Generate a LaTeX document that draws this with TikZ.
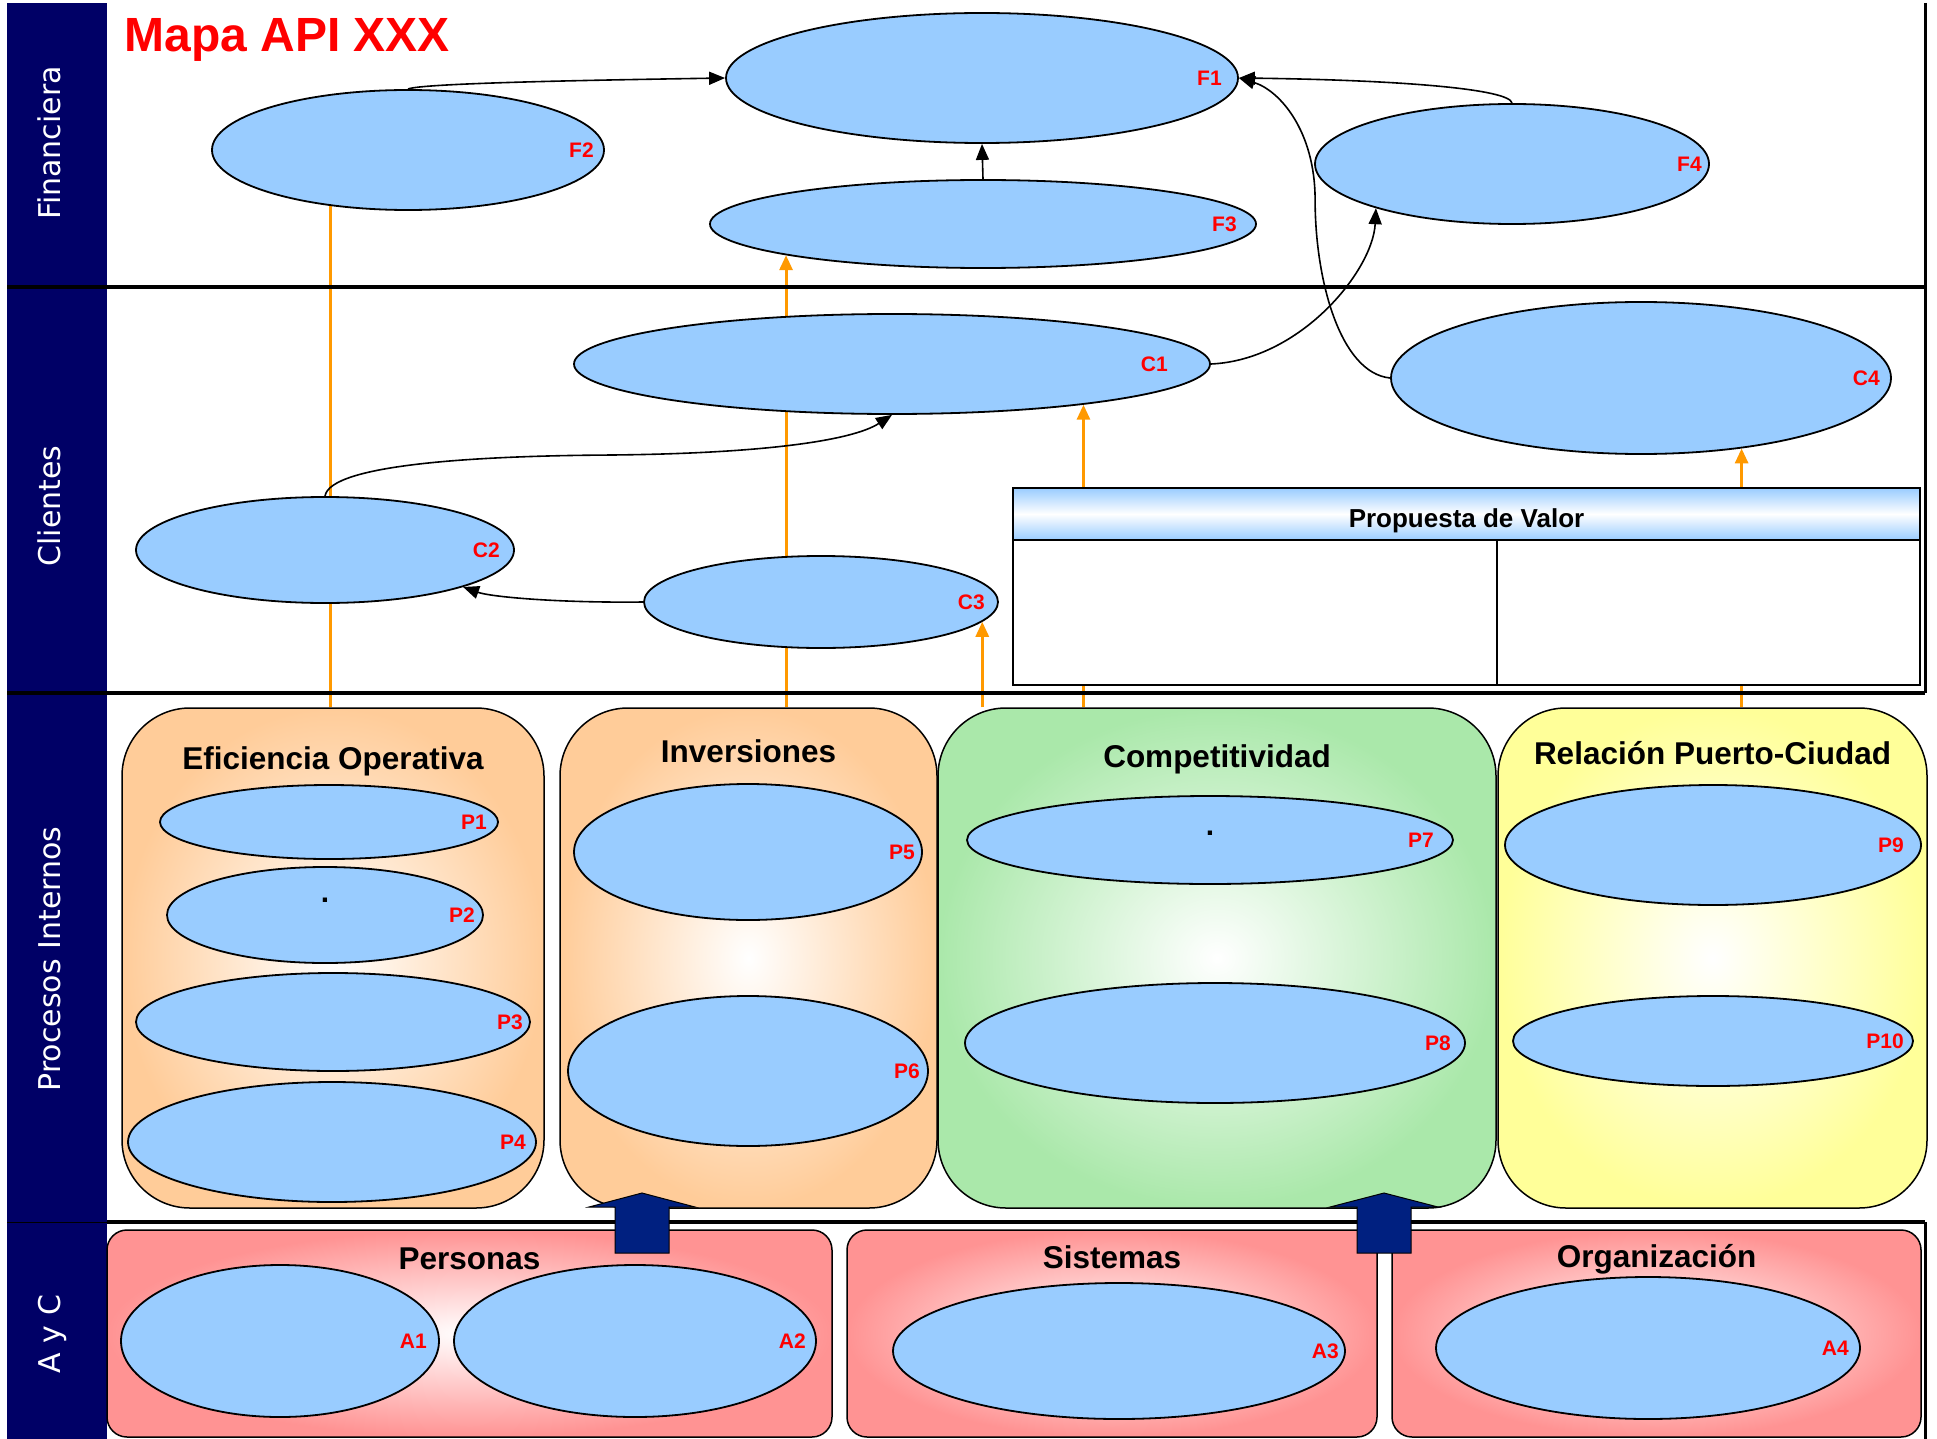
\documentclass[tikz,border=0pt]{standalone}
\usepackage{fontspec}
\setmainfont{Liberation Sans}
\newfontfamily\bandfont{DejaVu Sans}
\usepackage{tikz}
\usetikzlibrary{arrows.meta, positioning, shapes.geometric}
\definecolor{bandnavy}{HTML}{000066}
\definecolor{objblue}{HTML}{99CCFF}
\definecolor{peach}{HTML}{FFCC99}
\definecolor{mint}{HTML}{AAE8AA}
\definecolor{lemon}{HTML}{FFFF99}
\definecolor{rose}{HTML}{FF9393}
\definecolor{feedorange}{HTML}{FF9900}
\definecolor{blocknavy}{HTML}{002080}
\pgfdeclarelayer{bg}
\pgfsetlayers{bg,main}

\begin{document}
\begin{tikzpicture}[
    x=1pt, y=-1pt,
    >={Triangle[length=16pt, width=13pt]},
    band/.style={rectangle, fill=bandnavy, inner sep=0pt, minimum width=100pt},
    bandtxt/.style={rotate=90, anchor=base, text=white,
                    font=\bandfont\fontsize{30}{36}\selectfont},
    sectionline/.style={line width=4pt},
    obj/.style 2 args={ellipse, draw, line width=1.8pt, fill=objblue, inner sep=0pt,
                font=\bfseries\fontsize{30}{30}\selectfont,
                label={[tag, xshift=-#2]east:#1}},
    tag/.style={anchor=east, inner sep=0pt, text=red,
                font=\bfseries\fontsize{21}{24}\selectfont},
    perspbox/.style={rectangle, rounded corners=68pt, draw, line width=1.5pt,
                     inner color=white, outer color=#1, minimum height=500pt},
    capbox/.style={rectangle, rounded corners=20pt, draw, line width=1.5pt,
                   inner color=white, outer color=rose, minimum height=207pt},
    ttl/.style={anchor=base, inner sep=0pt,
                font=\bfseries\fontsize{31.5}{36}\selectfont},
    pvhead/.style={rectangle, draw, line width=1.5pt, minimum width=907pt,
                   minimum height=52pt, top color=objblue, bottom color=objblue,
                   middle color=white, text height=26pt, text depth=0pt,
                   font=\bfseries\fontsize{26}{30}\selectfont},
    pvcell/.style={rectangle, draw, line width=1.5pt, fill=white,
                   minimum height=145pt},
    link/.style={->, line width=1.6pt},
    feedline/.style={draw=feedorange, line width=3pt},
    feed/.style={feedline, -{Triangle[length=15pt, width=13pt]}},
    upblock/.style={fill=blocknavy, draw=black, line width=1pt},
  ]
  \useasboundingbox (0,0) rectangle (1937,1439);

  % perspective band
  \node[band, minimum height=284pt] (finband) at (57,145) {};
  \node[band, minimum height=406pt] (cliband) at (57,490) {};
  \node[band, minimum height=529pt] (proband) at (57,957.5) {};
  \node[band, minimum height=217pt] (ayband) at (57,1330.5) {};
  \node[bandtxt] (fintxt) at (60,143) {Financiera};
  \node[bandtxt] (clitxt) at (60,506) {Clientes};
  \node[bandtxt] (protxt) at (60,959) {Procesos Internos};
  \node[bandtxt] (aytxt) at (60,1334) {A y C};

  \draw[sectionline] (7,287) -- (1925,287);
  \draw[sectionline] (7,693) -- (1925,693);
  \draw[sectionline] (107,1222) -- (1925,1222);
  \draw[line width=1pt] (7,1222) -- (107,1222);
  \draw[line width=3pt] (1925,3) -- (1925,693);
  \draw[line width=3pt] (1925,1222) -- (1925,1439);

  \node[anchor=base west, text=red, font=\bfseries\fontsize{48}{56}\selectfont]
    (title) at (121,52) {Mapa API XXX};

  % Financiera
  \node[obj={F1}{17pt}, minimum width=512pt, minimum height=130pt] (f1) at (982,78) {};
  \node[obj={F2}{11pt}, minimum width=392pt, minimum height=120pt] (f2) at (408,150) {};
  \node[obj={F3}{20pt}, minimum width=546pt, minimum height=88pt] (f3) at (983,224) {};
  \node[obj={F4}{8pt}, minimum width=394pt, minimum height=120pt] (f4) at (1512,164) {};

  % Clientes
  \node[obj={C1}{43pt}, minimum width=636pt, minimum height=100pt] (c1) at (892,364) {};
  \node[obj={C2}{15pt}, minimum width=378pt, minimum height=106pt] (c2) at (325,550) {};
  \node[obj={C3}{14pt}, minimum width=354pt, minimum height=92pt] (c3) at (821,602) {};
  \node[obj={C4}{12pt}, minimum width=500pt, minimum height=152pt] (c4) at (1641,378) {};

  \node[pvhead] (pvhead) at (1466.5,514) {Propuesta de Valor};
  \node[pvcell, minimum width=484pt] (pvleft) at (1255,612.5) {};
  \node[pvcell, minimum width=423pt] (pvright) at (1708.5,612.5) {};

  % Procesos Internos
  \node[perspbox=peach, minimum width=422pt] (effbox) at (333,958) {};
  \node[perspbox=peach, minimum width=377pt] (invbox) at (748.5,958) {};
  \node[perspbox=mint, minimum width=558pt] (combox) at (1217,958) {};
  \node[perspbox=lemon, minimum width=429pt] (relbox) at (1712.5,958) {};
  \node[ttl] (efftitle) at ([yshift=-62pt]effbox.north) {Eficiencia Operativa};
  \node[ttl] (invtitle) at ([yshift=-55pt]invbox.north) {Inversiones};
  \node[ttl] (comtitle) at ([yshift=-60pt]combox.north) {Competitividad};
  \node[ttl] (reltitle) at ([yshift=-57pt]relbox.north) {Relación Puerto-Ciudad};

  \node[obj={P1}{12pt}, minimum width=338pt, minimum height=74pt] (p1) at (329,822) {};
  \node[obj={P2}{9pt}, minimum width=316pt, minimum height=96pt, text depth=30pt] (p2) at (325,915) {.};
  \node[obj={P3}{8pt}, minimum width=394pt, minimum height=98pt] (p3) at (333,1022) {};
  \node[obj={P4}{11pt}, minimum width=408pt, minimum height=120pt] (p4) at (332,1142) {};
  \node[obj={P5}{8pt}, minimum width=348pt, minimum height=136pt] (p5) at (748,852) {};
  \node[obj={P6}{9pt}, minimum width=360pt, minimum height=150pt] (p6) at (748,1071) {};
  \node[obj={P7}{20pt}, minimum width=486pt, minimum height=88pt, text depth=14pt] (p7) at (1210,840) {.};
  \node[obj={P8}{15pt}, minimum width=500pt, minimum height=120pt] (p8) at (1215,1043) {};
  \node[obj={P9}{18pt}, minimum width=416pt, minimum height=120pt] (p9) at (1713,845) {};
  \node[obj={P10}{10pt}, minimum width=400pt, minimum height=90pt] (p10) at (1713,1041) {};

  % A y C
  \node[capbox, minimum width=725pt] (perbox) at (469.5,1333.5) {};
  \node[capbox, minimum width=530pt] (sisbox) at (1112,1333.5) {};
  \node[capbox, minimum width=529pt] (orgbox) at (1656.5,1333.5) {};
  \node[ttl] (pertitle) at ([yshift=-40pt]perbox.north) {Personas};
  \node[ttl] (sistitle) at ([yshift=-39pt]sisbox.north) {Sistemas};
  \node[ttl] (orgtitle) at ([yshift=-38pt]orgbox.north) {Organización};

  \node[obj={A1}{13pt}, minimum width=318pt, minimum height=152pt] (a1) at (280,1341) {};
  \node[obj={A2}{11pt}, minimum width=362pt, minimum height=152pt] (a2) at (635,1341) {};
  \node[obj={A3}{7pt}, minimum width=452pt, minimum height=136pt] (a3) at (1119,1351) {};
  \node[obj={A4}{12pt}, minimum width=424pt, minimum height=142pt] (a4) at (1648,1348) {};

  % orange feeds behind everything
  \begin{pgfonlayer}{bg}
    \draw[feedline] (f2.216 |- effbox.north) -- (f2.216);
    \draw[feed] (f3.189 |- invbox.north) -- (f3.189);
    \draw[feed] (c3.353 |- combox.north) -- (c3.353);
    \draw[feed] (c1.348.5 |- combox.north) -- (c1.348.5);
    \draw[feed] (c4.325 |- relbox.north) -- (c4.325);
  \end{pgfonlayer}

  % cause-effect links
  \draw[link] (f3.north) -- (f1.south);
  \draw[link] (f2.north) .. controls +(12,-6) and +(-126,2) .. (f1.west);
  \draw[link] (f4.north) .. controls +(-2,-14) and +(162,2) .. (f1.east);
  \draw[link] (c4.west) .. controls +(-50,-5) and +(0,80) .. ++(-75,-178)
    .. controls +(0,-70) and +(40,12) .. (f1.east);
  \draw[link] (c1.east) .. controls +(90,-4) and +(-3,62) .. (f4.198);
  \draw[link] (c2.north) .. controls +(5,-32) and +(-120,1) .. ++(275,-41)
    .. controls +(160,-1) and +(-40,26) .. (c1.south);
  \draw[link] (c3.west) .. controls +(-84,1) and +(28,10) .. (c2.345);

  % block arrows
  \draw[upblock] (642,1193) -- ++(53,14) -- ++(-26,0) -- ++(0,46) -- ++(-54,0)
    -- ++(0,-46) -- ++(-26,0) -- cycle;
  \draw[upblock] (1384,1193) -- ++(54,14) -- ++(-27,0) -- ++(0,46) -- ++(-54,0)
    -- ++(0,-46) -- ++(-27,0) -- cycle;
\end{tikzpicture}
\end{document}
